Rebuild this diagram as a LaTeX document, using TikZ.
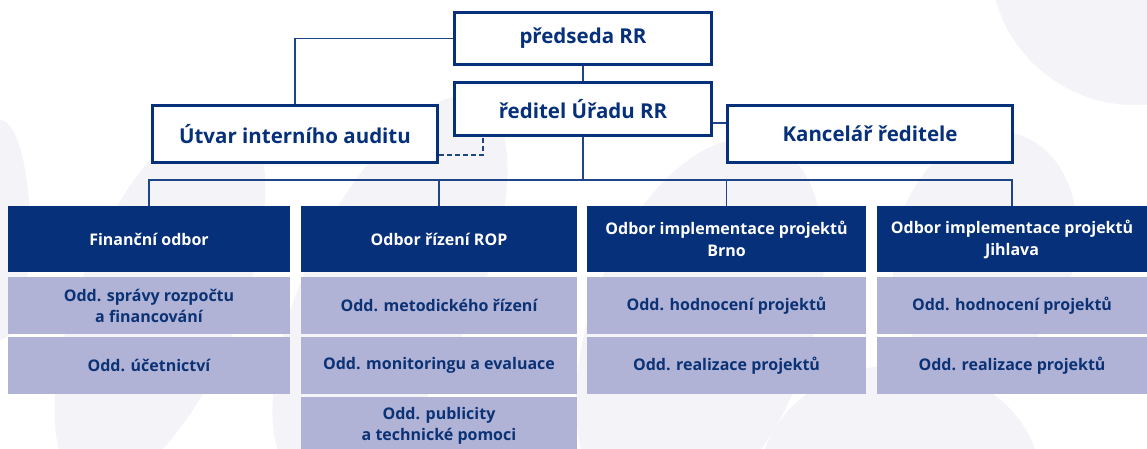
\documentclass[tikz,border=0pt]{standalone}
\usepackage{fontspec}
\setmainfont{Open Sans}
\definecolor{navy}{HTML}{06307A}
\definecolor{lite}{HTML}{B0B3D6}
\definecolor{ink}{HTML}{0B3275}
\definecolor{bgs}{HTML}{F3F3F8}
\definecolor{connc}{HTML}{1E4588}
\begin{document}
\begin{tikzpicture}[x=1pt,y=-1pt,
  topbox/.style={draw=navy, line width=3pt, fill=white, inner sep=0pt, text=navy,
    font=\bfseries\fontsize{20.5}{24}\selectfont, align=center},
  headbox/.style={fill=navy, text=white, inner sep=0pt,
    font=\bfseries\fontsize{16}{22}\selectfont, align=center, minimum height=66pt},
  subbox/.style={fill=lite, text=ink, inner sep=0pt,
    font=\bfseries\fontsize{16}{21}\selectfont, align=center, minimum height=57pt},
  connl/.style={draw=connc, line width=1.4pt}]
\useasboundingbox (0,0) rectangle (1147,449);
\clip (0,0) rectangle (1147,449);
\fill[white] (0,0) rectangle (1147,449);
% background shapes
\fill[bgs, rotate around={-22:(160,300)}] (160,300) ellipse [x radius=80, y radius=200];
\fill[bgs, rotate around={-25:(390,290)}] (390,290) ellipse [x radius=85, y radius=210];
\fill[bgs, rotate around={-20:(700,330)}] (700,330) ellipse [x radius=110, y radius=200];
\fill[bgs] (900,480) ellipse [x radius=140, y radius=115];
\fill[bgs] (1135,-40) circle [radius=145];
\fill[bgs] (0,230) ellipse [x radius=30, y radius=110];
\fill[bgs, rotate around={-15:(985,250)}] (985,250) ellipse [x radius=90, y radius=120];
% top level
\node[topbox, minimum width=257pt, minimum height=52pt] (pred) at (583,38.5) {předseda RR};
\node[topbox, minimum width=257pt, minimum height=53pt] (red) at (583,109) {ředitel Úřadu RR};
\node[topbox, minimum width=285pt, minimum height=57pt] (utvar) at (295,134) {Útvar interního auditu};
\node[topbox, minimum width=285pt, minimum height=57pt] (kanc) at (870,134) {Kancelář ředitele};
% departments
\node[headbox, minimum width=282pt] (fin) at (149,239) {Finanční odbor};
\node[headbox, minimum width=276pt] (rop) at (439,239) {Odbor řízení ROP};
\node[headbox, minimum width=279pt] (brno) at (726.5,239) {Odbor implementace projektů\\Brno};
\node[headbox, minimum width=270pt] (jih) at (1012,239) {Odbor implementace projektů\\Jihlava};
% sections
\node[subbox, minimum width=282pt] (fin1) at (149,305.5) {Odd. správy rozpočtu\\a financování};
\node[subbox, minimum width=282pt] (fin2) at (149,365.5) {Odd. účetnictví};
\node[subbox, minimum width=276pt] (rop1) at (439,305.5) {Odd. metodického řízení};
\node[subbox, minimum width=276pt] (rop2) at (439,365.5) {Odd. monitoringu a evaluace};
\node[subbox, minimum width=276pt] (rop3) at (439,425.5) {Odd. publicity\\a technické pomoci};
\node[subbox, minimum width=279pt] (brno1) at (726.5,305.5) {Odd. hodnocení projektů};
\node[subbox, minimum width=279pt] (brno2) at (726.5,365.5) {Odd. realizace projektů};
\node[subbox, minimum width=270pt] (jih1) at (1012,305.5) {Odd. hodnocení projektů};
\node[subbox, minimum width=270pt] (jih2) at (1012,365.5) {Odd. realizace projektů};
% connectors
\coordinate (bus) at (583,180);
\draw[connl] (pred.west) -| (utvar.north);
\draw[connl] (pred.south) -- (red.north);
\draw[connl] ([yshift=-14pt]red.east) -- ([yshift=-14pt]red.east -| kanc.west);
\draw[connl, dashed, dash pattern=on 5pt off 3pt] ([yshift=-21pt]utvar.east) -| ([xshift=-100pt]red.south);
\draw[connl] (red.south) -- (red.south |- bus);
\draw[connl] (fin.north) -- (fin.north |- bus) -- (jih.north |- bus) -- (jih.north);
\draw[connl] (rop.north) -- (rop.north |- bus);
\draw[connl] (brno.north) -- (brno.north |- bus);
\end{tikzpicture}
\end{document}
